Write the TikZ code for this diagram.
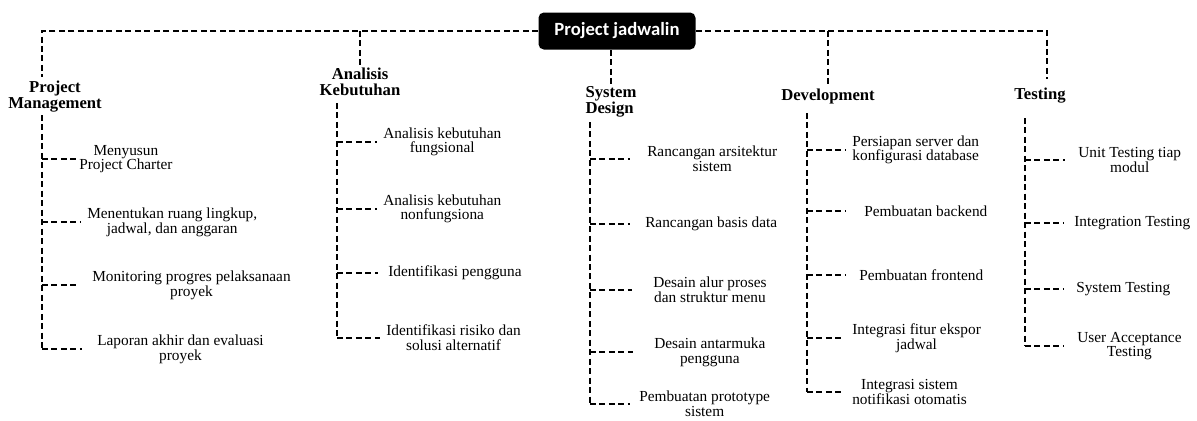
\documentclass[tikz,border=0pt]{standalone}
\usepackage{fontspec}
\setmainfont{Liberation Serif}
\newfontfamily\boxfont{Carlito}
\begin{document}
\begin{tikzpicture}[x=0.75pt,y=-0.75pt,
    dline/.style={draw=black,dash pattern=on 4.5pt off 2.6pt,line width=1.5pt},
    branch/.style={dline,shorten >=#1},branch/.default=3pt,
    rootbox/.style={fill=black,text=white,rounded corners=4pt,minimum width=117.75pt,minimum height=27.75pt,inner sep=0pt,font=\boxfont\bfseries\fontsize{14}{16}\selectfont},
    phase/.style={font=\bfseries\fontsize{12.5}{12}\selectfont,align=center,inner sep=1pt},
    task/.style={font=\fontsize{11.5}{11}\selectfont,align=center,anchor=west,inner sep=1.5pt}]
    \useasboundingbox (0,0) rectangle (1197,421);
    % root and phases
    \node[rootbox] (root) at (617,31) {Project jadwalin};
    \node[phase] (pm) at (55,97) {Project\\Management};
    \node[phase] (ak) at (360,82) {Analisis\\Kebutuhan};
    \node[phase,align=left] (sd) at (611,102) {System\\Design};
    \node[phase] (dev) at (828,96) {Development};
    \node[phase] (tst) at (1040,96) {Testing};
    \coordinate (pmin) at (42,77);
    \coordinate (tstin) at (1047,79);
    \draw[dline] (root.west) -| (pmin);
    \draw[dline] (root.east) -| (tstin);
    \draw[dline] (ak.north |- root.west) -- (ak.north);
    \draw[dline] (dev.north |- root.east) -- (dev.north);
    \draw[dline] (root.south -| sd.north) -- (sd.north);
    % Project Management
    \coordinate (pmsp) at (42,115);
    \node[task] (p1) at (77,159) {Menyusun\\Project Charter};
    \node[task] (p2) at (85,222) {Menentukan ruang lingkup,\\jadwal, dan anggaran};
    \node[task] (p3) at (90,285) {Monitoring progres pelaksanaan\\proyek};
    \node[task] (p4) at (95,349) {Laporan akhir dan evaluasi\\proyek};
    \draw[dline] (pmsp) -- (pmsp |- p4.west);
    \draw[branch=0pt] (pmsp |- p1.west) -- (p1.west);
    \draw[branch] (pmsp |- p2.west) -- (p2.west);
    \draw[branch=8pt] (pmsp |- p3.west) -- (p3.west);
    \draw[branch=10pt] (pmsp |- p4.west) -- (p4.west);
    % Analisis Kebutuhan
    \coordinate (aksp) at (337,103);
    \node[task] (a1) at (381,142) {Analisis kebutuhan\\fungsional};
    \node[task] (a2) at (381,209) {Analisis kebutuhan\\nonfungsiona};
    \node[task] (a3) at (386,273) {Identifikasi pengguna};
    \node[task] (a4) at (384,338) {Identifikasi risiko dan\\solusi alternatif};
    \draw[dline] (aksp) -- (aksp |- a4.west);
    \draw[branch] (aksp |- a1.west) -- (a1.west);
    \draw[branch] (aksp |- a2.west) -- (a2.west);
    \draw[branch=6pt] (aksp |- a3.west) -- (a3.west);
    \draw[branch] (aksp |- a4.west) -- (a4.west);
    % System Design
    \coordinate (sdsp) at (590,122);
    \node[task] (s1) at (645,159) {Rancangan arsitektur\\sistem};
    \node[task] (s2) at (643,224) {Rancangan basis data};
    \node[task] (s3) at (651,290) {Desain alur proses\\dan struktur menu};
    \node[task] (s4) at (652,352) {Desain antarmuka\\pengguna};
    \node[task] (s5) at (637,404) {Pembuatan prototype\\sistem};
    \draw[dline] (sdsp) -- (sdsp |- s5.west);
    \draw[branch=11pt] (sdsp |- s1.west) -- (s1.west);
    \draw[branch=10pt] (sdsp |- s2.west) -- (s2.west);
    \draw[branch=14pt] (sdsp |- s3.west) -- (s3.west);
    \draw[branch=14pt] (sdsp |- s4.west) -- (s4.west);
    \draw[branch=5pt] (sdsp |- s5.west) -- (s5.west);
    % Development
    \coordinate (devsp) at (807,113);
    \node[task] (d1) at (850,150) {Persiapan server dan\\konfigurasi database};
    \node[task] (d2) at (862,211) {Pembuatan backend};
    \node[task] (d3) at (857,275) {Pembuatan frontend};
    \node[task] (d4) at (850,338) {Integrasi fitur ekspor\\jadwal};
    \node[task] (d5) at (850,392) {Integrasi sistem\\notifikasi otomatis};
    \draw[dline] (devsp) -- (devsp |- d5.west);
    \draw[branch] (devsp |- d1.west) -- (d1.west);
    \draw[branch=12pt] (devsp |- d2.west) -- (d2.west);
    \draw[branch=8pt] (devsp |- d3.west) -- (d3.west);
    \draw[branch=5pt] (devsp |- d4.west) -- (d4.west);
    \draw[branch=5pt] (devsp |- d5.west) -- (d5.west);
    % Testing
    \coordinate (tstsp) at (1025,118);
    \node[task] (t1) at (1076,160) {Unit Testing tiap\\modul};
    \node[task] (t2) at (1072,223) {Integration Testing};
    \node[task] (t3) at (1074,289) {System Testing};
    \node[task] (t4) at (1075,346) {User Acceptance\\Testing};
    \draw[dline] (tstsp) -- (tstsp |- t4.west);
    \draw[branch=8pt] (tstsp |- t1.west) -- (t1.west);
    \draw[branch=6pt] (tstsp |- t2.west) -- (t2.west);
    \draw[branch=8pt] (tstsp |- t3.west) -- (t3.west);
    \draw[branch=8pt] (tstsp |- t4.west) -- (t4.west);
\end{tikzpicture}
\end{document}
